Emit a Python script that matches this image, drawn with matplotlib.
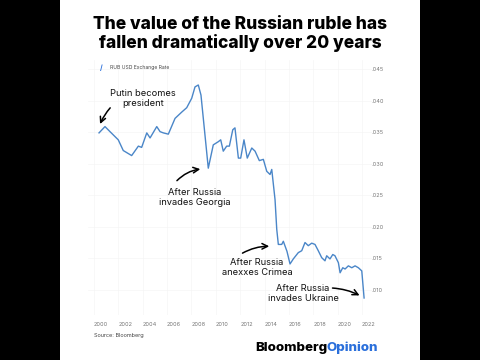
import matplotlib.pyplot as plt
from matplotlib.patches import Rectangle

# RUB/USD exchange rate (decimal year, USD per ruble)
years = [2000.41, 2000.90, 2001.31, 2001.99, 2002.40, 2003.09, 2003.64, 2003.91,
         2004.33, 2004.60, 2005.15, 2005.42, 2005.69, 2006.10, 2006.65, 2007.20,
         2007.61, 2008.02, 2008.29, 2008.56, 2008.78, 2009.38, 2009.79, 2010.20,
         2010.40, 2010.61, 2010.89, 2011.11, 2011.39, 2011.57, 2011.85, 2012.04,
         2012.31, 2012.58, 2012.95, 2013.22, 2013.57, 2013.90, 2014.18, 2014.45,
         2014.59, 2014.86, 2015.00, 2015.13, 2015.41, 2015.54, 2015.84, 2016.09,
         2016.36, 2016.77, 2017.05, 2017.32, 2017.59, 2017.87, 2018.14, 2018.41,
         2018.69, 2018.96, 2019.10, 2019.37, 2019.60, 2019.78, 2020.06, 2020.20,
         2020.42, 2020.61, 2020.88, 2021.16, 2021.43, 2021.70, 2021.98, 2022.17]
rate = [0.0349, 0.0359, 0.0351, 0.0338, 0.0321, 0.0313, 0.0328, 0.0326,
        0.0349, 0.0341, 0.0359, 0.0351, 0.0349, 0.0347, 0.0372, 0.0382,
        0.0389, 0.0404, 0.0422, 0.0425, 0.0409, 0.0293, 0.0330, 0.0335,
        0.0338, 0.0320, 0.0328, 0.0328, 0.0354, 0.0357, 0.0309, 0.0309,
        0.0338, 0.0309, 0.0325, 0.0320, 0.0305, 0.0307, 0.0288, 0.0283,
        0.0291, 0.0243, 0.0196, 0.0172, 0.0172, 0.0177, 0.0161, 0.0141,
        0.0149, 0.0159, 0.0162, 0.0175, 0.0170, 0.0174, 0.0172, 0.0162,
        0.0151, 0.0146, 0.0154, 0.0149, 0.0156, 0.0154, 0.0143, 0.0127,
        0.0135, 0.0133, 0.0138, 0.0135, 0.0138, 0.0135, 0.0130, 0.0087]

x_ticks = list(range(2000, 2023, 2))
y_ticks = [0.010, 0.015, 0.020, 0.025, 0.030, 0.035, 0.040, 0.045]
y_labels = ['.010', '.015', '.020', '.025', '.030', '.035', '.040', '.045']

# events: (label, text position, arrow tail, arrow head, curvature)
events = [
    ('Putin becomes\npresident', (2004.02, 0.0404), (2001.48, 0.0392), (2000.41, 0.0359), 0.1),
    ('After Russia\ninvades Georgia', (2008.29, 0.0247), (2006.65, 0.0270), (2008.95, 0.0292), -0.2),
    ('After Russia\nanexxes Crimea', (2013.38, 0.0135), (2011.99, 0.0156), (2014.61, 0.0169), -0.15),
    ('After Russia\ninvades Ukraine', (2017.16, 0.0094), (2019.35, 0.0103), (2022.00, 0.0089), -0.12),
]

plt.rcParams['font.family'] = ['Inter', 'DejaVu Sans']

fig = plt.figure(figsize=(4.8, 3.6), dpi=100, facecolor='black')
fig.patches.append(Rectangle((60 / 480, 0), 360 / 480, 1, transform=fig.transFigure,
                             facecolor='white', edgecolor='none', zorder=-5))

fig.text(0.5, 0.955, 'The value of the Russian ruble has\nfallen dramatically over 20 years',
         ha='center', va='top', fontsize=12.5, fontweight='heavy', linespacing=1.08)

ax = fig.add_axes([0.1832, 0.125, 0.5913, 0.7089])
ax.set_facecolor('none')
ax.plot(years, rate, color='#4a86c8', lw=1.0)
ax.set_xlim(1999.5, 2022.8)
ax.set_ylim(0.006, 0.0465)

ax.set_xticks(x_ticks)
ax.set_xticklabels([str(y) for y in x_ticks], ha='left')
ax.set_yticks(y_ticks)
ax.set_yticklabels(y_labels)
ax.yaxis.tick_right()
ax.tick_params(length=0, labelsize=4, colors='#777777')
ax.tick_params(axis='x', pad=5)
ax.tick_params(axis='y', pad=0)
ax.grid(True, color='#f5f5f5', lw=0.5)
for s in ax.spines.values():
    s.set_visible(False)

for label, tpos, tail, head, rad in events:
    ax.text(tpos[0], tpos[1], label, ha='center', va='center', fontsize=6.7,
            linespacing=1.1, color='#111111')
    ax.annotate('', xy=head, xytext=tail,
                arrowprops=dict(arrowstyle='->', lw=1.1, color='black',
                                connectionstyle=f'arc3,rad={rad}'))

# legend
fig.text(100 / 480, 1 - 68 / 360, '/', color='#2a6fdb', fontsize=5, fontweight='bold',
         ha='left', va='center')
fig.text(110 / 480, 1 - 68 / 360, 'RUB USD Exchange Rate', color='#444444', fontsize=3.6,
         ha='left', va='center')

fig.text(94 / 480, 1 - 335 / 360, 'Source: Bloomberg', color='#444444', fontsize=4,
         ha='left', va='center')

t = fig.text(255 / 480, 1 - 348 / 360, 'Bloomberg', color='black', fontsize=9.6,
             fontweight='heavy', ha='left', va='center')
fig.canvas.draw()
bb = t.get_window_extent()
fig.text((bb.x1 - 1) / 480, 1 - 348 / 360, 'Opinion', color='#2a6fdb', fontsize=9.6,
         fontweight='heavy', ha='left', va='center')

fig.savefig('out.png', dpi=100, facecolor='black')
